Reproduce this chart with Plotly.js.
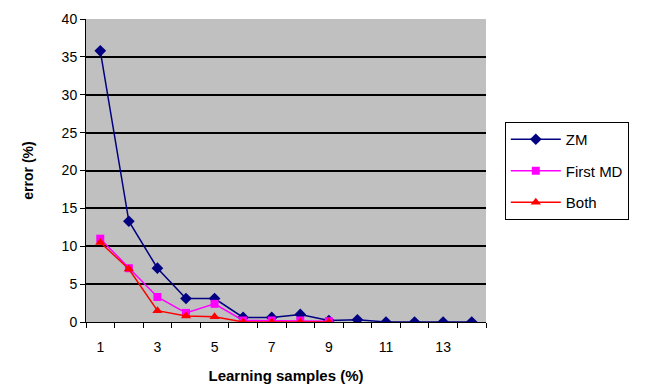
<!DOCTYPE html>
<html><head><meta charset="utf-8">
<script src="https://cdn.plot.ly/plotly-3.0.1.min.js"></script>
<style>body{margin:0;padding:0;background:#fff}#chart{width:646px;height:391px}</style>
</head><body><div id="chart"></div>
<script>
const samples = [1,2,3,4,5,6,7,8,9,10,11,12,13,14];
const zm      = [35.8,13.3,7.1,3.1,3.1,0.6,0.6,1.0,0.2,0.3,0,0,0,0];
const mdX     = [1,2,3,4,5,6,7,8,9];
const firstMD = [11.0,7.1,3.3,1.2,2.4,0.2,0.2,0.2,0.1];
const both    = [10.5,7.0,1.5,0.8,0.7,0,0,0,0];
const xTicks  = [1,3,5,7,9,11,13];

const traces = [
  {x: samples, y: zm, name: 'ZM', mode: 'lines+markers', legendgroup: 'a',
   line: {color: '#000080', width: 1.5}, marker: {symbol: 'diamond', size: 9, color: '#000080'}},
  {x: mdX, y: firstMD, name: 'First MD', mode: 'lines+markers', legendgroup: 'b',
   line: {color: '#ff00ff', width: 1.5}, marker: {symbol: 'square', size: 8, color: '#ff00ff'}},
  {x: mdX, y: both, name: 'Both', mode: 'lines+markers', legendgroup: 'c',
   line: {color: '#ff0000', width: 1.5}, marker: {symbol: 'triangle-up', size: 9, color: '#ff0000'}}
];

const layout = {
  width: 646, height: 391,
  margin: {l: 86, r: 160, t: 19, b: 69},
  paper_bgcolor: '#ffffff', plot_bgcolor: '#c0c0c0',
  font: {family: 'Arial, Liberation Sans, sans-serif', size: 14, color: '#000'},
  showlegend: true,
  legend: {x: 1.047, y: 0.66, xanchor: 'left', yanchor: 'top',
           bordercolor: '#000', borderwidth: 1, bgcolor: '#fff',
           font: {size: 15}, tracegroupgap: 9, itemwidth: 50},
  xaxis: {range: [0.5, 14.5], tickvals: xTicks, ticks: '', showgrid: false,
          showline: true, linecolor: '#000', linewidth: 1, zeroline: false,
          minor: {tick0: 0.5, dtick: 1, ticks: 'outside', ticklen: 5, tickcolor: '#000', showgrid: false},
          tickfont: {size: 14}, ticklabelstandoff: 12,
          title: {text: '<b>Learning samples (%)</b>', font: {size: 15}, standoff: 16}},
  yaxis: {range: [0, 40], dtick: 5, ticks: 'outside', ticklen: 5, tickcolor: '#000',
          showgrid: true, gridcolor: '#000', gridwidth: 1.5, showline: true, linecolor: '#000',
          zeroline: false, tickfont: {size: 14},
          title: {text: '<b>error (%)</b>', font: {size: 14}, standoff: 24}}
};
Plotly.newPlot('chart', traces, layout, {displayModeBar: false});
</script></body></html>
